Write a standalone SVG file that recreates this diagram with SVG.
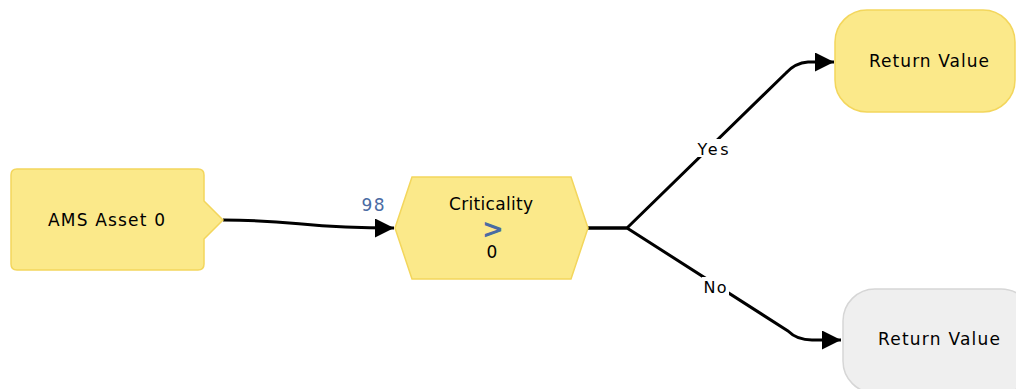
<svg xmlns="http://www.w3.org/2000/svg" width="1016" height="389" viewBox="0 0 1016 389">
<style>
.node-y{fill:#fbe98a;stroke:#f3d65c;stroke-width:1.5}
.node-g{fill:#efefef;stroke:#d6d6d6;stroke-width:1.5}
.t{font-family:"DejaVu Sans",Verdana,sans-serif;font-size:17px;fill:#000;text-anchor:middle}
.lbl{font-family:"DejaVu Sans",Verdana,sans-serif;font-size:16px;fill:#000;text-anchor:middle}
.blue{fill:#4a6ba3}
.conn{fill:none;stroke:#000;stroke-width:3;stroke-linejoin:round;marker-end:url(#arr)}
</style>
<defs>
<marker id="arr" viewBox="0 0 10 10" refX="10" refY="5" markerWidth="19" markerHeight="19" markerUnits="userSpaceOnUse" orient="auto">
<path d="M0,0 L10,5 L0,10 Z" fill="#000"/>
</marker>
</defs>
<rect width="1016" height="389" fill="#fff"/>
<g id="connectors">
<path class="conn" d="M223,220 C300,220 300,228 394,228"/>
<path class="conn" d="M588,228 L627,228 L786,73 Q795,63 808,62 L834,62"/>
<path class="conn" d="M588,228 L627,228 L788,331 Q797,340 812,340 L841,340"/>
<rect x="696" y="139" width="35" height="18" fill="#fff"/>
<text class="lbl" x="713" y="155" textLength="31" lengthAdjust="spacing">Yes</text>
<rect x="702" y="277" width="27" height="18" fill="#fff"/>
<text class="lbl" x="715" y="293" textLength="23" lengthAdjust="spacing">No</text>
<text class="t blue" x="373" y="211" textLength="23" lengthAdjust="spacing">98</text>
</g>
<g id="ams-asset">
<path class="node-y" d="M17,169 H198 Q204,169 204,175 V201 L223,220 L204,239 V264 Q204,270 198,270 H17 Q11,270 11,264 V175 Q11,169 17,169 Z"/>
<text class="t" x="106.5" y="226" textLength="117" lengthAdjust="spacing">AMS Asset 0</text>
</g>
<g id="criticality">
<polygon class="node-y" points="395,228 412,177 571,177 588,228 571,279 412,279"/>
<text class="t" x="491" y="210" textLength="84" lengthAdjust="spacing">Criticality</text>
<text x="493" y="238" text-anchor="middle" style="font-family:'DejaVu Sans',sans-serif;font-size:26px;font-weight:bold" class="blue">&gt;</text>
<text class="t" x="492" y="258">0</text>
</g>
<g id="return-yes">
<rect class="node-y" x="835" y="10" width="180" height="102" rx="32" ry="32"/>
<text class="t" x="929" y="67" textLength="120" lengthAdjust="spacing">Return Value</text>
</g>
<g id="return-no">
<rect class="node-g" x="843" y="289" width="190" height="104" rx="32" ry="32"/>
<text class="t" x="939" y="345" textLength="122" lengthAdjust="spacing">Return Value</text>
</g>
</svg>
